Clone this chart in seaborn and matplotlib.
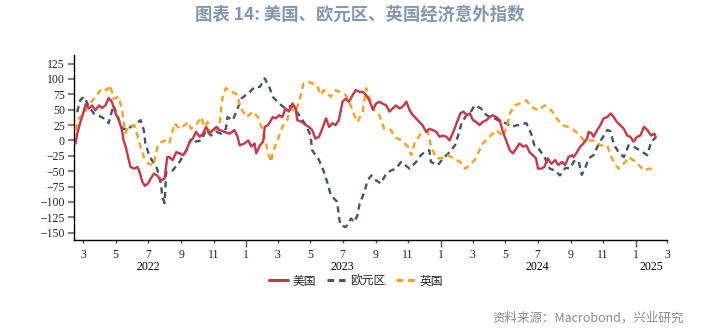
import matplotlib
matplotlib.use("Agg")
import matplotlib.pyplot as plt
import matplotlib.dates as mdates
import matplotlib.transforms as mtransforms
from matplotlib.lines import Line2D
import pandas as pd
import seaborn as sns

# ---------------- data ----------------
series_names = ["美国", "欧元区", "英国"]

us_dates = ["2022-02-15","2022-02-18","2022-02-24","2022-02-27","2022-03-06","2022-03-12","2022-03-18","2022-03-24","2022-03-31","2022-04-06","2022-04-12","2022-04-18","2022-04-24","2022-05-01","2022-05-07","2022-05-13","2022-05-16","2022-05-20","2022-05-25","2022-05-29","2022-06-05","2022-06-11","2022-06-15","2022-06-20","2022-06-25","2022-07-01","2022-07-06","2022-07-12","2022-07-18","2022-07-25","2022-08-01","2022-08-06","2022-08-10","2022-08-16","2022-08-23","2022-08-29","2022-09-05","2022-09-11","2022-09-17","2022-09-23","2022-09-29","2022-10-06","2022-10-12","2022-10-18","2022-10-24","2022-10-31","2022-11-06","2022-11-12","2022-11-21","2022-12-01","2022-12-10","2022-12-16","2022-12-20","2022-12-29","2023-01-05","2023-01-11","2023-01-17","2023-01-20","2023-01-27","2023-02-02","2023-02-05","2023-02-11","2023-02-17","2023-02-20","2023-02-26","2023-03-04","2023-03-10","2023-03-16","2023-03-22","2023-03-29","2023-04-04","2023-04-07","2023-04-16","2023-04-23","2023-04-29","2023-05-05","2023-05-11","2023-05-18","2023-05-24","2023-05-31","2023-06-06","2023-06-12","2023-06-18","2023-06-24","2023-07-01","2023-07-07","2023-07-13","2023-07-20","2023-07-26","2023-08-02","2023-08-08","2023-08-14","2023-08-20","2023-08-27","2023-09-02","2023-09-08","2023-09-14","2023-09-21","2023-09-27","2023-10-03","2023-10-09","2023-10-16","2023-10-22","2023-10-29","2023-11-04","2023-11-10","2023-11-16","2023-11-22","2023-11-28","2023-12-05","2023-12-11","2023-12-17","2023-12-24","2023-12-30","2024-01-06","2024-01-12","2024-01-18","2024-01-25","2024-02-01","2024-02-07","2024-02-13","2024-02-19","2024-02-25","2024-03-02","2024-03-08","2024-03-14","2024-03-20","2024-03-27","2024-04-02","2024-04-08","2024-04-15","2024-04-21","2024-04-27","2024-05-03","2024-05-10","2024-05-16","2024-05-22","2024-05-28","2024-06-04","2024-06-10","2024-06-16","2024-06-22","2024-06-28","2024-07-02","2024-07-08","2024-07-14","2024-07-20","2024-07-27","2024-08-03","2024-08-09","2024-08-16","2024-08-22","2024-08-28","2024-09-04","2024-09-07","2024-09-13","2024-09-19","2024-09-25","2024-10-02","2024-10-05","2024-10-11","2024-10-14","2024-10-21","2024-10-27","2024-11-02","2024-11-09","2024-11-15","2024-11-21","2024-11-27","2024-12-03","2024-12-10","2024-12-16","2024-12-22","2024-12-28","2025-01-04","2025-01-10","2025-01-17","2025-01-23","2025-01-30","2025-02-05","2025-02-08"]
us_values = [-5,11,30,38,59,52,57,49,57,53,57,69,63,44,33,17,0,-10,-29,-43,-46,-43,-51,-67,-74,-70,-62,-54,-57,-65,-62,-27,-27,-32,-19,-21,-24,-16,-2,3,14,6,11,22,11,17,22,17,14,11,17,6,-8,-5,0,-10,-5,-21,-8,-2,22,25,33,38,36,41,38,52,47,60,52,33,30,25,22,17,3,6,19,36,22,28,25,33,63,68,63,74,82,79,79,74,66,50,60,63,60,57,47,52,57,52,55,63,49,41,36,30,25,14,19,17,14,6,8,6,0,14,30,44,47,41,44,33,30,25,30,33,38,41,38,33,14,0,-16,-21,-13,-5,-10,-8,-19,-24,-29,-46,-46,-43,-29,-38,-32,-40,-35,-40,-27,-24,-27,-19,-10,-5,3,14,11,6,17,25,36,38,44,38,30,25,19,8,6,-2,6,8,22,17,8,11,6]

ez_dates = ["2022-02-18","2022-02-24","2022-03-03","2022-03-12","2022-03-21","2022-03-31","2022-04-15","2022-04-18","2022-04-21","2022-04-27","2022-05-03","2022-05-13","2022-05-23","2022-05-29","2022-06-05","2022-06-17","2022-06-23","2022-06-26","2022-07-02","2022-07-08","2022-07-18","2022-07-25","2022-07-28","2022-08-01","2022-08-04","2022-08-16","2022-08-29","2022-09-11","2022-09-20","2022-09-29","2022-10-09","2022-10-18","2022-10-27","2022-11-06","2022-11-15","2022-11-24","2022-11-27","2022-12-07","2022-12-16","2022-12-23","2023-01-08","2023-01-17","2023-01-27","2023-02-05","2023-02-14","2023-02-20","2023-03-04","2023-03-16","2023-03-29","2023-04-04","2023-04-13","2023-04-23","2023-05-02","2023-05-05","2023-05-18","2023-05-27","2023-06-03","2023-06-09","2023-06-21","2023-06-24","2023-06-27","2023-07-07","2023-07-17","2023-07-23","2023-07-29","2023-08-02","2023-08-11","2023-08-17","2023-08-24","2023-09-02","2023-09-11","2023-09-21","2023-09-30","2023-10-09","2023-10-19","2023-11-04","2023-11-16","2023-11-25","2023-12-02","2023-12-11","2023-12-14","2023-12-27","2024-01-06","2024-01-18","2024-01-28","2024-02-04","2024-02-10","2024-02-19","2024-02-25","2024-03-05","2024-03-17","2024-03-23","2024-04-02","2024-04-11","2024-04-24","2024-05-03","2024-05-13","2024-05-25","2024-06-10","2024-06-19","2024-06-25","2024-07-02","2024-07-14","2024-07-24","2024-08-03","2024-08-12","2024-08-22","2024-09-01","2024-09-07","2024-09-16","2024-09-22","2024-09-28","2024-10-05","2024-10-14","2024-10-21","2024-10-30","2024-11-09","2024-11-15","2024-11-21","2024-11-30","2024-12-10","2024-12-19","2024-12-28","2025-01-07","2025-01-14","2025-01-23","2025-01-30","2025-02-08"]
ez_values = [46,66,71,55,44,40,33,28,38,57,44,20,17,22,25,33,17,-5,-21,-32,-46,-70,-92,-102,-51,-49,-35,-16,3,-2,0,17,8,14,11,19,38,33,52,68,79,87,87,101,86,71,60,52,57,49,38,25,8,-16,-32,-51,-70,-89,-100,-122,-138,-141,-127,-133,-122,-103,-84,-65,-57,-65,-70,-54,-49,-46,-35,-46,-35,-24,-19,-16,-35,-40,-29,-19,-8,11,30,41,44,57,52,44,38,36,30,28,22,25,28,11,-8,-12,-27,-46,-49,-57,-45,-45,-34,-33,-56,-46,-29,-24,-11,3,17,15,-6,-19,-27,-8,-10,-15,-19,-24,-3,5]

uk_dates = ["2022-02-15","2022-02-21","2022-03-03","2022-03-12","2022-03-24","2022-04-06","2022-04-15","2022-04-21","2022-04-27","2022-05-07","2022-05-13","2022-05-16","2022-05-20","2022-05-23","2022-05-29","2022-06-05","2022-06-11","2022-06-17","2022-06-23","2022-07-02","2022-07-12","2022-07-15","2022-07-21","2022-08-01","2022-08-10","2022-08-13","2022-08-20","2022-08-29","2022-09-08","2022-09-14","2022-09-20","2022-09-29","2022-10-09","2022-10-15","2022-10-21","2022-10-24","2022-11-03","2022-11-12","2022-11-15","2022-11-18","2022-11-24","2022-12-01","2022-12-10","2022-12-16","2022-12-20","2023-01-02","2023-01-14","2023-01-23","2023-01-30","2023-02-05","2023-02-11","2023-02-17","2023-02-20","2023-03-01","2023-03-10","2023-03-19","2023-03-25","2023-04-04","2023-04-13","2023-04-19","2023-04-29","2023-05-14","2023-05-21","2023-05-27","2023-06-09","2023-06-18","2023-07-07","2023-07-17","2023-07-23","2023-07-29","2023-08-08","2023-08-14","2023-08-20","2023-08-27","2023-09-08","2023-09-17","2023-09-30","2023-10-06","2023-10-19","2023-11-01","2023-11-07","2023-11-13","2023-11-25","2023-12-08","2023-12-14","2023-12-24","2024-01-03","2024-01-15","2024-01-25","2024-02-07","2024-02-16","2024-02-25","2024-03-05","2024-03-14","2024-03-20","2024-04-02","2024-04-15","2024-04-27","2024-05-06","2024-05-10","2024-05-19","2024-05-28","2024-06-10","2024-06-19","2024-07-02","2024-07-14","2024-07-27","2024-08-06","2024-08-16","2024-08-28","2024-09-07","2024-09-19","2024-09-28","2024-10-08","2024-10-17","2024-10-27","2024-11-09","2024-11-15","2024-11-21","2024-11-30","2024-12-13","2024-12-19","2025-01-01","2025-01-07","2025-01-17","2025-01-26","2025-02-05"]
uk_values = [17,36,44,57,71,85,82,90,68,71,50,30,12,20,22,25,8,-11,-27,-38,-40,-21,-5,0,-5,6,28,19,25,30,19,25,38,22,30,11,17,22,52,71,85,82,77,74,55,38,47,38,22,3,-19,-35,-19,0,22,33,52,47,71,93,95,90,74,82,71,82,74,55,41,30,47,85,70,52,41,19,17,6,0,-10,-24,-5,11,14,-10,-29,-29,-24,-29,-35,-46,-40,-32,-16,-5,6,17,6,28,44,57,60,65,55,49,57,49,36,25,22,17,8,-2,0,0,-8,-8,-24,-35,-46,-35,-27,-35,-40,-49,-46,-46]

y_ticks = [125, 100, 75, 50, 25, 0, -25, -50, -75, -100, -125, -150]
year_labels = ["2022", "2023", "2024", "2025"]
year_label_dates = ["2022-07-01", "2023-07-01", "2024-07-01", "2025-01-30"]

title_text = "图表 14: 美国、欧元区、英国经济意外指数"
source_text = "资料来源：Macrobond，兴业研究"

# ---------------- styling ----------------
colors = {"美国": "#C8374A", "欧元区": "#44546A", "英国": "#F5A11F"}
dash_styles = {"美国": "", "欧元区": (2.6, 1.9), "英国": (2.6, 1.9)}

sns.set_theme(style="white")
plt.rcParams["font.family"] = ["Liberation Serif", "DejaVu Sans"]
cjk = ["Noto Sans CJK SC", "DejaVu Sans"]

frames = []
for name, d, v in [("美国", us_dates, us_values), ("欧元区", ez_dates, ez_values), ("英国", uk_dates, uk_values)]:
    frames.append(pd.DataFrame({"date": pd.to_datetime(d), "value": v, "series": name}))
df = pd.concat(frames, ignore_index=True)

fig = plt.figure(figsize=(7.2, 3.31), dpi=100)
ax = fig.add_axes([74 / 720, 1 - 240 / 331, (667 - 74) / 720, (240 - 55) / 331])

# draw Euro, UK first, US on top
for name, z in [("欧元区", 2), ("英国", 3), ("美国", 4)]:
    sub = df[df["series"] == name]
    sns.lineplot(data=sub, x="date", y="value", ax=ax, color=colors[name],
                 linewidth=1.7, estimator=None, legend=False, zorder=z)
    ln = ax.lines[-1]
    if dash_styles[name]:
        ln.set_dashes(dash_styles[name])
    ln.set_solid_joinstyle("round")

ax.set_xlim(pd.Timestamp("2022-02-12"), pd.Timestamp("2025-03-01"))
ax.set_ylim(-162, 139)
ax.set_yticks(y_ticks)
ax.set_xlabel("")
ax.set_ylabel("")

# x ticks: January major (longer), odd months minor
ax.xaxis.set_major_locator(mdates.MonthLocator(bymonth=[1]))
ax.xaxis.set_minor_locator(mdates.MonthLocator(bymonth=[3, 5, 7, 9, 11]))
fmt = mdates.DateFormatter("%#m") if False else matplotlib.ticker.FuncFormatter(lambda x, p: str(mdates.num2date(x).month))
ax.xaxis.set_major_formatter(fmt)
ax.xaxis.set_minor_formatter(fmt)
ax.tick_params(axis="x", which="major", length=5, width=1, color="#555555", pad=1.2, labelsize=8.5, direction="out", bottom=True)
ax.tick_params(axis="x", which="minor", length=2.2, width=1, color="#555555", pad=4.0, labelsize=8.5, direction="out", bottom=True)
ax.tick_params(axis="y", length=4, width=1.5, color="#808080", pad=2.5, labelsize=8.5, left=True, direction="out")

for s in ["top", "right"]:
    ax.spines[s].set_visible(False)
for s in ["left", "bottom"]:
    ax.spines[s].set_color("#000000")
    ax.spines[s].set_linewidth(1.0)
ax.grid(False)

# year labels
trans = mtransforms.blended_transform_factory(ax.transData, ax.transAxes)
for lab, d in zip(year_labels, year_label_dates):
    ax.text(mdates.date2num(pd.Timestamp(d)), -0.145, lab, transform=trans,
            ha="center", va="center", fontsize=8.5, color="#000000")

# legend
handles = []
for name in series_names:
    h = Line2D([0], [0], color=colors[name], linewidth=2.2)
    if dash_styles[name]:
        h.set_dashes((2.2, 1.6))
    handles.append(h)
fig.legend(handles, series_names, loc="center", bbox_to_anchor=(356 / 720, 1 - 281 / 331),
           ncol=3, frameon=False, prop={"family": cjk, "size": 8.5},
           handlelength=1.6, handletextpad=0.4, columnspacing=0.9)

fig.text(0.5, 1 - 15 / 331, title_text, ha="center", va="center", fontsize=12.5,
         fontweight="bold", color="#8496B0", family=cjk)
fig.text(684 / 720, 1 - 318 / 331, source_text, ha="right", va="center", fontsize=9,
         color="#8C8C8C", family=cjk)

fig.savefig("out.png", dpi=100)
